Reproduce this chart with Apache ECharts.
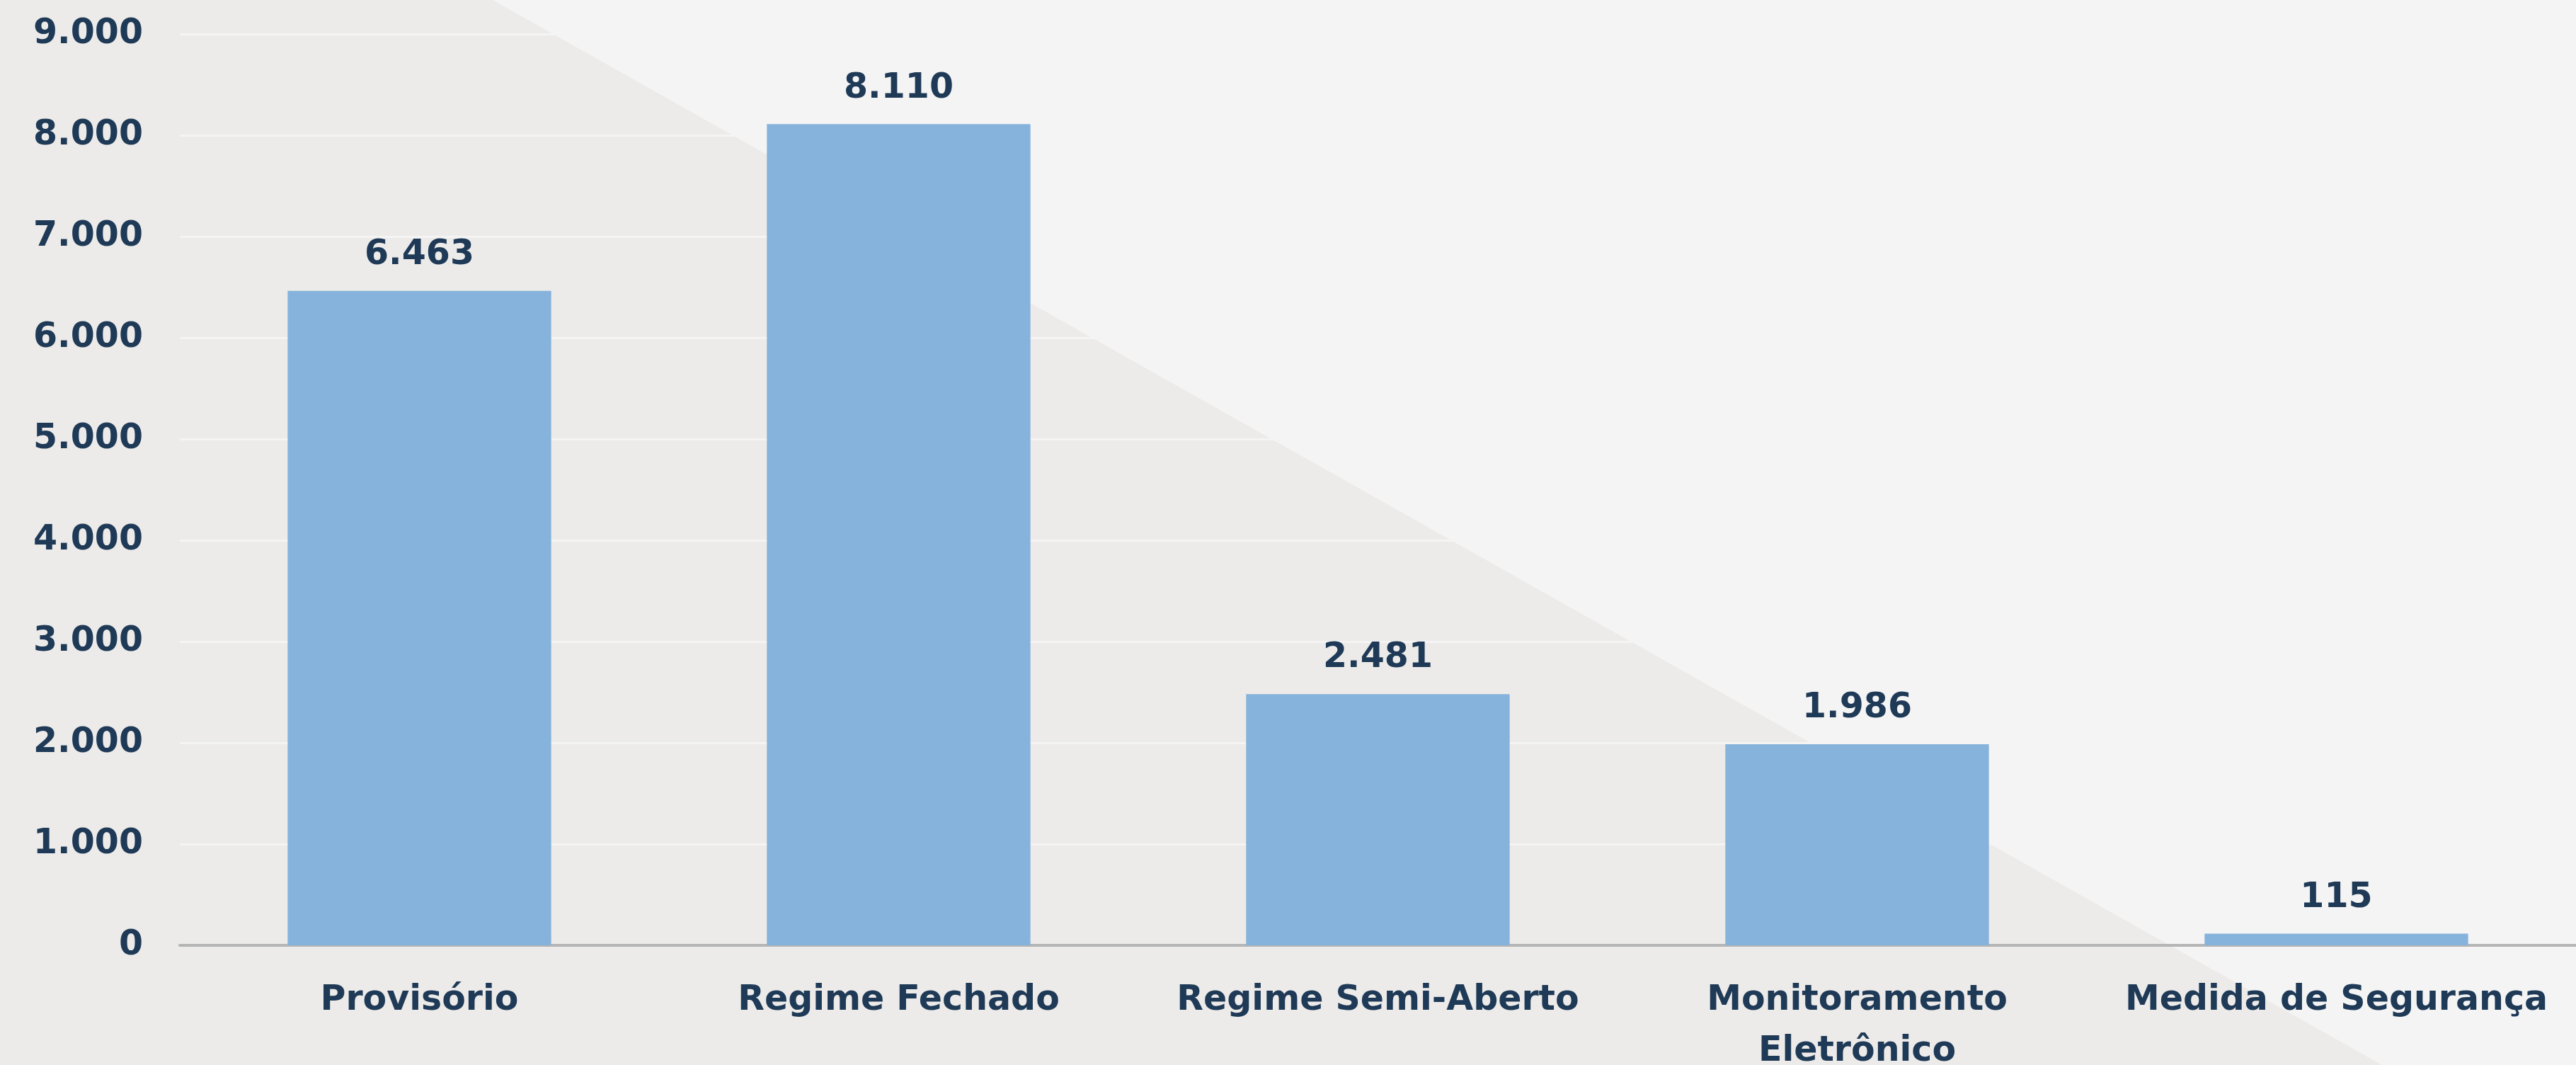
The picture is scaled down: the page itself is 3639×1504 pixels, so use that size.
<!DOCTYPE html>
<html>
<head>
<meta charset="utf-8">
<script src="https://cdn.jsdelivr.net/npm/echarts@6/dist/echarts.min.js"></script>
<style>
html,body{margin:0;padding:0;background:#edebe9;}
#chart{width:3639px;height:1504px;}
</style>
</head>
<body>
<div id="chart"></div>
<script>
const categories = ['Provisório', 'Regime Fechado', 'Regime Semi-Aberto', 'Monitoramento\nEletrônico', 'Medida de Segurança'];
const values = [6463, 8110, 2481, 1986, 115];
const yTicks = [0, 1000, 2000, 3000, 4000, 5000, 6000, 7000, 8000, 9000];

function fmt(v) {
  return String(v).replace(/\B(?=(\d{3})+(?!\d))/g, '.');
}

const FONT = 'DejaVu Sans';
const TEXT = '#1f3a57';

const chart = echarts.init(document.getElementById('chart'), null, {renderer: 'canvas'});
chart.setOption({
  backgroundColor: '#edebe9',
  animation: false,
  graphic: [{
    type: 'polygon',
    z: -10,
    silent: true,
    shape: {points: [[696, 0], [3639, 0], [3639, 1504], [3365, 1504]]},
    style: {fill: '#f4f4f4'}
  }],
  grid: {left: 254, right: 0, top: 48, bottom: 169, containLabel: false, outerBoundsMode: 'none'},
  xAxis: {
    type: 'category',
    data: categories,
    axisLine: {show: true, lineStyle: {color: '#b5b5b5', width: 4}},
    axisTick: {show: false},
    axisLabel: {
      color: TEXT, fontFamily: FONT, fontSize: 49, fontWeight: 'bold',
      margin: 42, lineHeight: 72, interval: 0
    }
  },
  yAxis: {
    type: 'value',
    min: yTicks[0],
    max: yTicks[yTicks.length - 1],
    interval: 1000,
    axisLine: {show: false},
    axisTick: {show: false},
    splitLine: {show: true, lineStyle: {color: '#f4f4f4', width: 3}},
    axisLabel: {
      color: TEXT, fontFamily: FONT, fontSize: 49, fontWeight: 'bold',
      margin: 52,
      formatter: v => fmt(v)
    }
  },
  series: [{
    type: 'bar',
    data: values,
    barWidth: '55%',
    itemStyle: {color: '#86b3dc'},
    label: {
      show: true,
      position: 'top',
      distance: 26,
      color: TEXT, fontFamily: FONT, fontSize: 49, fontWeight: 'bold',
      formatter: p => fmt(p.value)
    }
  }]
});
</script>
</body>
</html>
